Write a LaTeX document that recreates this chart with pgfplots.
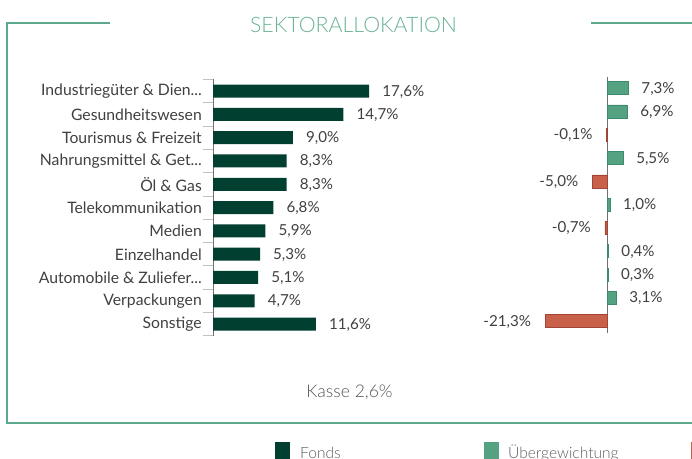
\documentclass[border=0pt]{standalone}
\usepackage{pgfplots}
\pgfplotsset{compat=1.18}
\usepackage{pgfplotstable}
\usepackage{fontspec}
\setmainfont{Lato}
\IfFontExistsTF{Lato Light}{\newfontfamily\lightfont{Lato Light}\def\lightcol{}}{\newcommand{\lightfont}{}}
\definecolor{framecol}{HTML}{5BA88A}
\definecolor{titlecol}{HTML}{6AB394}
\definecolor{fonds}{HTML}{013F31}
\definecolor{ueber}{HTML}{55A283}
\definecolor{ueberdark}{HTML}{3F8B6D}
\definecolor{unter}{HTML}{C9614A}
\definecolor{unterdark}{HTML}{9F4535}
\definecolor{textgray}{HTML}{404040}
\definecolor{tickgray}{HTML}{C0C0C0}
\definecolor{axisgray}{HTML}{707070}

\pgfplotstableread{
y x label
0 17.6 17,6
1 14.7 14,7
2 9.0 9,0
3 8.3 8,3
4 8.3 8,3
5 6.8 6,8
6 5.9 5,9
7 5.3 5,3
8 5.1 5,1
9 4.7 4,7
10 11.6 11,6
}\fondstab

\pgfplotstableread{
y x label
0 7.3 7,3
1 6.9 6,9
3 5.5 5,5
5 1.0 1,0
7 0.4 0,4
8 0.3 0,3
9 3.1 3,1
}\postab

\pgfplotstableread{
y x label
2 -0.1 -0,1
4 -5.0 -5,0
6 -0.7 -0,7
10 -21.3 -21,3
}\negtab

\newcommand{\lblfont}{\fontsize{15.8}{18}\selectfont}
\newcommand{\valfont}{\fontsize{15.2}{18}\selectfont}
\newcommand{\legfont}{\lightfont\fontsize{15.6}{18}\selectfont}
\newcommand{\dd}{...}

\begin{document}
\begin{tikzpicture}
\useasboundingbox (0,0) rectangle (692bp,-459bp);
\clip (0,0) rectangle (692bp,-459bp);

% frame
\draw[framecol, line width=2bp] (110bp,-23bp) -- (7bp,-23bp) -- (7bp,-423bp) -- (692.5bp,-423bp) -- (692.5bp,-23bp) -- (591bp,-23bp);

% title
\node[text=titlecol, font=\lightfont\fontsize{21.4}{25}\selectfont] at (353.5bp,-25bp) {SEKTORALLOKATION};

% left chart
\begin{axis}[
  at={(213bp,-79.4bp)}, anchor=north west,
  scale only axis, width=177.4bp, height=256.3bp,
  xmin=0, xmax=20, ymin=-0.5, ymax=10.5, y dir=reverse,
  axis x line=none, axis y line*=left,
  y axis line style={draw=axisgray, line width=0.8bp, -},
  ytick={0,...,10},
  yticklabels={{Industriegüter \& Dien\dd},{Gesundheitswesen},{Tourismus \& Freizeit},{Nahrungsmittel \& Get\dd},{Öl \& Gas},{Telekommunikation},{Medien},{Einzelhandel},{Automobile \& Zuliefer\dd},{Verpackungen},{Sonstige}},
  major tick length=0pt,
  minor ytick={-0.5,0.5,...,10.5},
  minor tick length=10bp,
  tick align=inside,
  every minor tick/.append style={draw=tickgray, line width=0.8bp},
  yticklabel style={font=\lblfont, text=textgray, anchor=east, inner sep=0pt, xshift=-11bp, yshift=-0.3bp},
  xbar, bar width=13bp,
  nodes near coords={\pgfplotspointmeta\%},
  point meta=explicit symbolic,
  every node near coord/.append style={font=\valfont, text=textgray, anchor=west, inner sep=0pt, xshift=13bp, yshift=-0.5bp},
  clip=false,
]
\addplot[fill=fonds, draw=none] table[x=x, y=y, meta=label]{\fondstab};
\end{axis}

% right chart
\begin{axis}[
  at={(541.75bp,-76.5bp)}, anchor=north west,
  scale only axis, width=94.25bp, height=256.3bp,
  xmin=-22.5, xmax=10, ymin=-0.5, ymax=10.5, y dir=reverse,
  axis x line=none, axis y line*=middle,
  y axis line style={draw=axisgray, line width=0.8bp, -},
  ytick=\empty,
  minor ytick={-0.5,0.5,...,10.5},
  minor tick length=20bp,
  tick align=center,
  every minor tick/.append style={draw=tickgray, line width=0.8bp},
  xbar, bar width=13bp,
  nodes near coords={\pgfplotspointmeta\%},
  point meta=explicit symbolic,
  every node near coord/.append style={font=\valfont, text=textgray, inner sep=0pt, yshift=-0.5bp},
  clip=false,
]
\addplot[fill=ueber, draw=ueberdark, line width=0.6bp, bar shift=0pt,
  every node near coord/.append style={anchor=west, xshift=13bp}] table[x=x, y=y, meta=label]{\postab};
\addplot[fill=unter, draw=unterdark, line width=0.6bp, bar shift=0pt,
  every node near coord/.append style={anchor=east, xshift=-14bp}] table[x=x, y=y, meta=label]{\negtab};
\end{axis}

% cash note
\node[text=textgray!90, font=\lightfont\fontsize{17.6}{20}\selectfont] at (349.5bp,-392bp) {Kasse 2,6\%};

% legend
\fill[fonds] (275bp,-442bp) rectangle (290bp,-460bp);
\node[anchor=base west, inner sep=0pt, text=textgray!85, font=\legfont] at (300bp,-458bp) {Fonds};
\fill[ueber] (484bp,-442bp) rectangle (499bp,-460bp);
\node[anchor=base west, inner sep=0pt, text=textgray!85, font=\legfont] at (508bp,-458bp) {Übergewichtung};
\fill[unter] (691bp,-442bp) rectangle (706bp,-460bp);
\node[anchor=base west, inner sep=0pt, text=textgray!85, font=\legfont] at (716bp,-458bp) {Untergewichtung};
\end{tikzpicture}
\end{document}
